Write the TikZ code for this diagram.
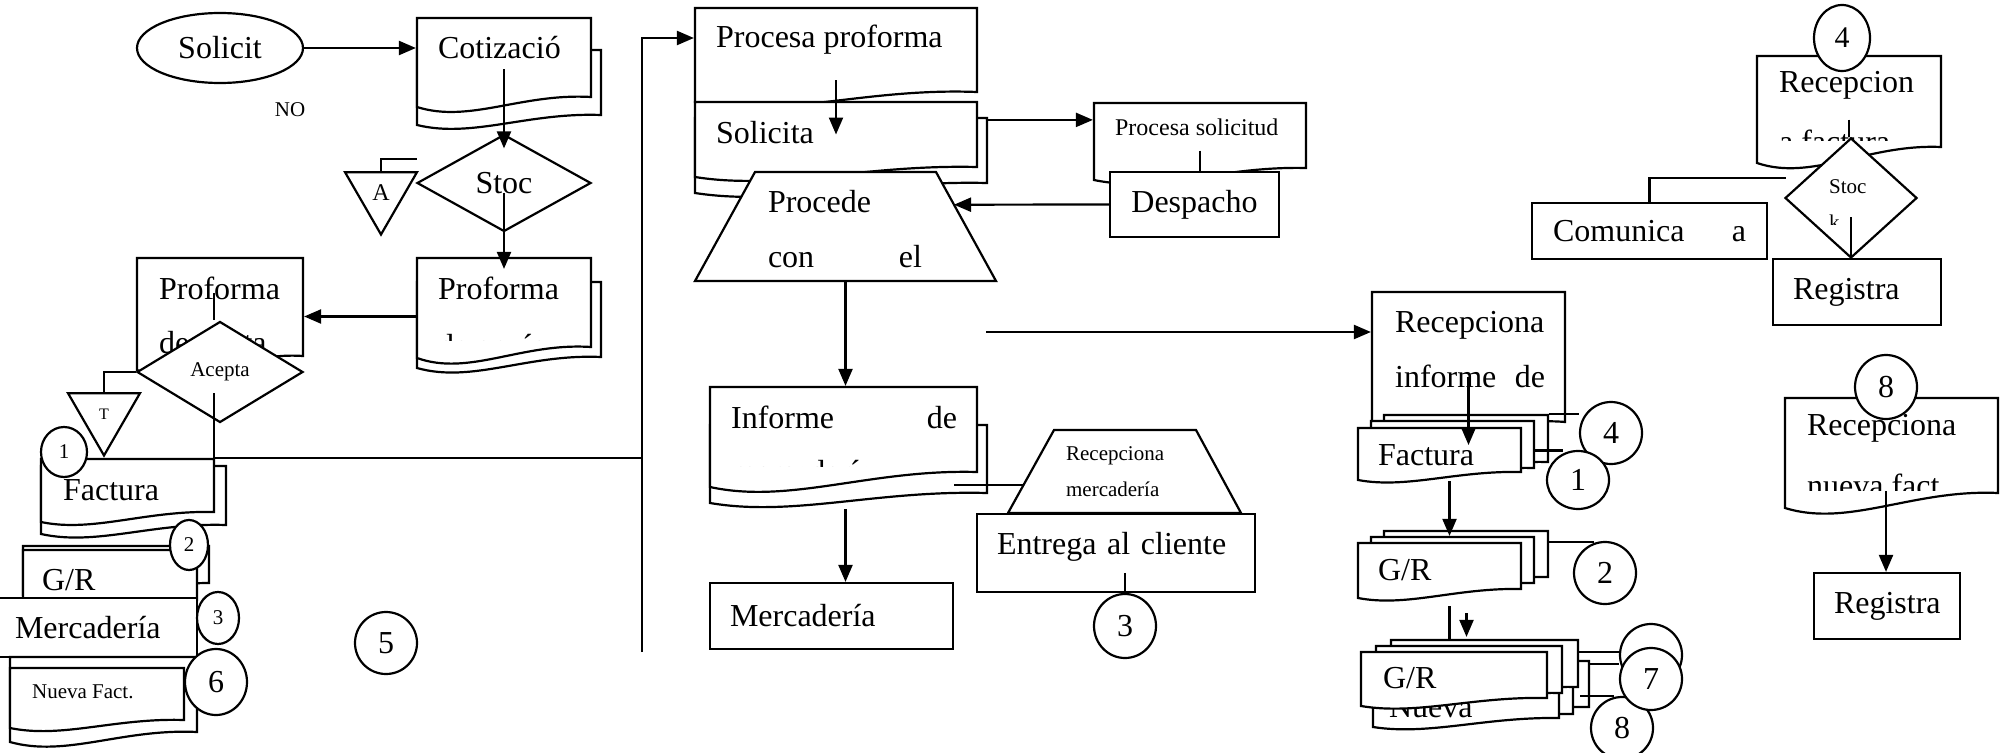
\documentclass[tikz,border=0pt]{standalone}
\usepackage{fontspec}
\setmainfont{Liberation Serif}
\usetikzlibrary{calc,shapes.geometric,arrows.meta,fit}

\newcommand{\fbig}{\fontsize{32}{55}\selectfont}
\newcommand{\fmid}{\fontsize{24}{36}\selectfont}
\newcommand{\fsmall}{\fontsize{21}{36}\selectfont}

% one page of a document symbol: name, left, top, right, bottom left, bottom right
\newcommand{\docpage}[6]{%
  \pgfmathsetmacro{\wup}{0.09*(#5-#3)}%
  \pgfmathsetmacro{\wdn}{0.22*(#5-#3)}%
  \draw[page] (#2,#5) -- (#2,#3) -- (#4,#3) -- (#4,#6)
    .. controls ($(#4,#6)!0.4!(#2,#5)+(0,-\wup)$) and ($(#4,#6)!0.7!(#2,#5)+(0,\wdn)$) .. (#2,#5) -- cycle;
  \node[fit={(#2,#3) (#4,#6)}, inner sep=0pt] (#1) {};%
}

\begin{document}
\begin{tikzpicture}[x=1pt,y=-1pt,line width=2.2pt,
  page/.style={draw, fill=white},
  box/.style={draw, fill=white, rectangle, inner ysep=0pt, align=left, font=\fbig},
  txt/.style={inner sep=0pt, anchor=west, font=\fbig},
  stxt/.style={txt, font=\fsmall},
  num/.style={draw, fill=white, ellipse, inner sep=0pt, font=\fbig},
  snum/.style={num, font=\fsmall},
  decision/.style={draw, fill=white, diamond, inner sep=0pt},
  flag/.style={draw, fill=white, regular polygon, regular polygon sides=3, shape border rotate=180, inner sep=0pt, minimum size=83pt},
  arr/.style={-{Triangle[length=17pt,width=14pt]}}
]
\path[use as bounding box, clip] (0,0) rectangle (2007,752);

% first column
\node[draw, ellipse, fill=white, minimum width=166pt, minimum height=70pt, inner sep=0pt, font=\fbig] (solicit) at (220,48) {Solicit};
\node[stxt, anchor=center] (no) at (290,110) {NO};

\docpage{cotizB}{417}{50}{601}{125}{115}
\docpage{cotiz}{417}{18}{591}{107}{97}
\node[txt] (cotizT) at (437,48) {Cotizació};

\node[decision, minimum width=174pt, minimum height=97pt, font=\fbig] (stoc) at (504,183) {Stoc};
\node[flag, font=\fontsize{24}{24}\selectfont] (triA) at (381,193) {A};
\coordinate (aend) at (417,159);

\docpage{profRB}{417}{282}{601}{368}{357}
\docpage{profR}{417}{258}{591}{358}{347}
\node[txt] (profRT) at (437,288) {Proforma};
\begin{scope}
  \clip (417,258) rectangle (591,340);
  \node[txt] (profRT2) at (437,346) {de envío};
\end{scope}

\docpage{profL}{137}{258}{303}{370}{356}
\node[txt] (profLT) at (158,288) {Proforma};
\node[txt] (profLT2) at (158,343) {de venta};

\node[decision, minimum width=166pt, minimum height=101pt, font=\fsmall] (acepta) at (220,372) {Acepta};
\node[flag, font=\fontsize{16}{16}\selectfont] (triT) at (104,414) {T};

\docpage{factLB}{41}{466}{226}{534}{525}
\docpage{factL}{41}{459}{214}{522}{512}
\node[txt] (factLT) at (62,490) {Factura};
\node[snum, minimum width=46pt, minimum height=50pt] (n1L) at (64,452) {1};

\docpage{grLB}{23}{546}{209}{595}{583}
\docpage{grL}{23}{550}{197}{610}{600}
\node[txt] (grLT) at (41,580) {G/R};
\node[snum, minimum width=38pt, minimum height=50pt] (n2L) at (189,545) {2};
\node[box, minimum width=202pt, minimum height=59pt, inner xsep=20pt, text width=162pt] (mercL) at (96,627.5) {Mercadería};
\node[snum, minimum width=42pt, minimum height=52pt] (n3L) at (218,618) {3};

\docpage{nuevaB}{10}{657}{197}{742}{732}
\docpage{nueva}{10}{668}{184}{728}{720}
\node[stxt] (nuevaT) at (31,692) {Nueva Fact.};
\node[num, minimum width=62pt, minimum height=66pt] (n6) at (216,682) {6};
\node[num, minimum width=62pt, minimum height=62pt] (n5) at (386,643) {5};

\coordinate (trunktop) at (642,38);
\coordinate (trunkmid) at (642,458);
\coordinate (trunkbot) at (642,652);

% second column
\docpage{procprof}{695}{8}{977}{102}{92}
\node[txt] (procprofT) at (715,40) {Procesa proforma};
\docpage{solicB}{695}{118}{987}{193}{183}
\docpage{solic}{695}{102}{977}{177}{167}
\node[txt] (solicT) at (715,133) {Solicita};
\docpage{procsol}{1094}{103}{1306}{180}{168}
\node[txt, font=\fmid] (procsolT) at (1114,127) {Procesa solicitud};
\node[box, minimum width=169pt, minimum height=65pt, inner xsep=0pt, text width=169pt, align=center] (desp) at (1194.5,204.5) {Despacho};

\draw[page] (695,281) -- (755,172) coordinate (procTL) -- (936,172) coordinate (procTR) -- (996,281) coordinate (procBR) -- cycle;
\node[fit={(695,172) (996,281)}, inner sep=0pt] (procede) {};
\node[txt, anchor=center, text width=154pt, align=left] (procedeT) at (845,229.5) {Procede\\con\hfill el};

\docpage{infB}{710}{425}{987}{503}{493}
\docpage{inf}{710}{387}{977}{487}{472}
\node[txt, text width=226pt] (infT) at (730,417) {Informe\hfill de};
\begin{scope}
  \clip (710,387) rectangle (977,466);
  \node[txt] (infT2) at (730,472) {mercadería};
\end{scope}
\node[box, minimum width=243pt, minimum height=66pt, inner xsep=20pt, text width=203pt] (mercM) at (831.5,616) {Mercadería};

\draw[page] (1008,513) coordinate (recBL) -- (1054,430) coordinate (recTL) -- (1196,430) -- (1241,513) -- cycle;
\node[fit={(1008,430) (1241,513)}, inner sep=0pt] (recmerc) {};
\node[stxt, align=left] (recmercT) at (1065,472) {Recepciona\\mercadería};
\node[box, minimum width=278pt, minimum height=78pt, inner xsep=20pt, text width=238pt, text depth=20pt] (entrega) at (1116,553) {Entrega al cliente};
\node[num, minimum width=62pt, minimum height=64pt] (n3M) at (1125,626) {3};
\coordinate (fromproc) at (986,332);

% third column
\docpage{recinf}{1372}{292}{1565}{437}{422}
\node[txt, text width=150pt, align=left] (recinfT) at (1394,350) {Recepciona\\informe\hfill de};
\docpage{factR3}{1384}{415}{1548}{470}{462}
\docpage{factR2}{1371}{421}{1534}{476}{468}
\docpage{factR}{1358}{428}{1521}{480}{472}
\node[txt] (factRT) at (1377,455) {Factura};
\node[num, minimum size=62pt] (n4M) at (1611,433) {4};
\node[num, minimum width=62pt, minimum height=58pt] (n1R) at (1578,480) {1};

\docpage{grR3}{1384}{531}{1548}{585}{577}
\docpage{grR2}{1371}{537}{1534}{591}{583}
\docpage{grR}{1358}{543}{1521}{598}{589}
\node[txt] (grRT) at (1377,570) {G/R};
\node[num, minimum size=62pt] (n2R) at (1605,573) {2};

\docpage{stk6}{1405}{661}{1589}{715}{707}
\docpage{stk5}{1390}{668}{1573}{722}{714}
\docpage{stk4}{1373}{675}{1559}{727}{718}
\node[txt] (stkT2) at (1388,707) {Nueva};
\docpage{stk3}{1391}{640}{1578}{695}{687}
\docpage{stk2}{1376}{646}{1562}{701}{693}
\docpage{stk1}{1361}{652}{1547}{706}{698}
\node[txt] (stkT) at (1382,678) {G/R};
\node[num, minimum size=62pt] (n0) at (1651,655) {};
\node[num, minimum size=62pt] (n8R) at (1622,728) {8};
\node[num, minimum size=62pt] (n7) at (1651,679) {7};

% last column
\docpage{recfac}{1757}{56}{1941}{163}{147}
\node[txt] (recfacT) at (1778,85) {Recepcion};
\begin{scope}
  \clip (1757,56) rectangle (1941,140);
  \node[txt] (recfacT2) at (1778,141) {a factura};
\end{scope}
\node[num, minimum width=56pt, minimum height=66pt, font=\fontsize{30}{30}\selectfont] (n4T) at (1842,38) {4};
\node[decision, minimum width=132pt, minimum height=120pt] (stock) at (1851,198) {};
\begin{scope}
  \clip (1780,150) rectangle (1920,224);
  \node[stxt, align=left] (stockT) at (1828,205) {Stoc\\k};
\end{scope}
\node[box, minimum width=235pt, minimum height=56pt, inner xsep=21pt, text width=193pt] (comun) at (1649.5,231) {Comunica\hfill a};
\node[box, minimum width=168pt, minimum height=66pt, inner xsep=20pt, text width=128pt] (regT) at (1857,292) {Registra};

\docpage{recnue}{1785}{398}{1998}{508}{493}
\node[txt] (recnueT) at (1806,428) {Recepciona};
\begin{scope}
  \clip (1785,398) rectangle (1998,490);
  \node[txt] (recnueT2) at (1806,485) {nueva fact};
\end{scope}
\node[num, minimum width=62pt, minimum height=64pt] (n8T) at (1886,387) {8};
\node[box, minimum width=146pt, minimum height=66pt, inner xsep=20pt, text width=106pt] (regB) at (1887,606) {Registra};

% connectors
\draw[arr] (solicit) -- (cotiz.west |- solicit);
\draw[arr] ([yshift=-12pt]cotiz.center) -- ([yshift=-15pt]stoc.north);
\draw[arr] ([yshift=-10pt]stoc.center) -- ([yshift=-12pt]profR.north);
\draw (triA.north) |- (aend);
\coordinate (p1) at ([yshift=-14pt]profR.west);
\draw[arr] (p1) -- (p1 -| profL.east);
\draw ([xshift=-6pt,yshift=14pt]profL.center) -- ([xshift=-6pt]acepta.north);
\draw (acepta.west) -| (triT.north);
\draw ([xshift=-6pt,yshift=-21pt]acepta.center) |- (trunkmid);
\draw[arr] (trunkbot) -- (trunktop) -- (trunktop -| procprof.west);

\draw[arr] ([yshift=-30pt]procprof.center) -- (solic.center);
\coordinate (s1) at ([yshift=-3pt]solicB.north east);
\draw[arr] (s1) -- (s1 -| procsol.west);
\draw ([yshift=-15pt]procsol.center) -- (procsol.center |- desp.north);
\draw[arr] (desp.west) -- ($(procTR)!0.3!(procBR)$);
\draw[arr] (procede.south) -- (procede.south |- inf.north);
\draw[arr] ($(procede.south |- infB.south)+(0,15)$) -- (procede.south |- mercM.north);
\coordinate (r1) at ($(recTL)!0.66!(recBL)$);
\draw (r1) -- ($(r1 -| infB.east)+(-34,0)$);
\draw ([yshift=20pt]n3M.north) -- (n3M.north);
\draw[arr] (fromproc) -- (fromproc -| recinf.west);

\draw[arr] ([yshift=-20pt]recinf.center) -- ($(recinf.center |- factR.center)+(0,-5)$);
\draw (factR3.north east) -- (factR3.north east -| n4M.west);
\coordinate (f2) at ([yshift=-6pt]factR2.east);
\draw (f2) -- (f2 -| n1R.120);
\coordinate (f3) at ([xshift=10pt,yshift=-8pt]factR.south);
\draw[arr] (f3) -- (f3 |- grR2.north);
\coordinate (g1) at ([yshift=-12pt]grR3.north east);
\draw (g1) -- (g1 -| n2R.110);
\coordinate (g2) at ([xshift=10pt,yshift=-16pt]grR.south);
\draw (g2) -- (g2 |- stk3.north);
\draw[arr] ($(g2)+(17,7)$) -- ($(g2 |- stk3.north)+(17,-2)$);
\coordinate (k1) at ([yshift=-13pt]stk3.north east);
\draw (k1) -- (k1 -| n0.west);
\coordinate (k2) at ([yshift=-4pt]stk6.north east);
\draw (k2) -- (k2 -| n7.west);
\coordinate (k3) at ([xshift=-10pt,yshift=-36pt]stk6.north east);
\draw (k3) -- (k3 -| n8R.105);

\draw (n4T.south) -- (n4T.south |- recfacT.north);
\coordinate (q1) at ([yshift=-18pt]recfac.center);
\draw (q1) -- (q1 |- stock.north);
\draw ([yshift=-19pt]stock.center) -- (stock.center |- regT.north);
\coordinate (q2) at ([xshift=2pt,yshift=20pt]stock.west);
\draw (q2) -| (comun.north);
\draw[arr] ($(n8T.center |- recnue.south)+(0,-3)$) -- (n8T.center |- regB.north);
\end{tikzpicture}
\end{document}
